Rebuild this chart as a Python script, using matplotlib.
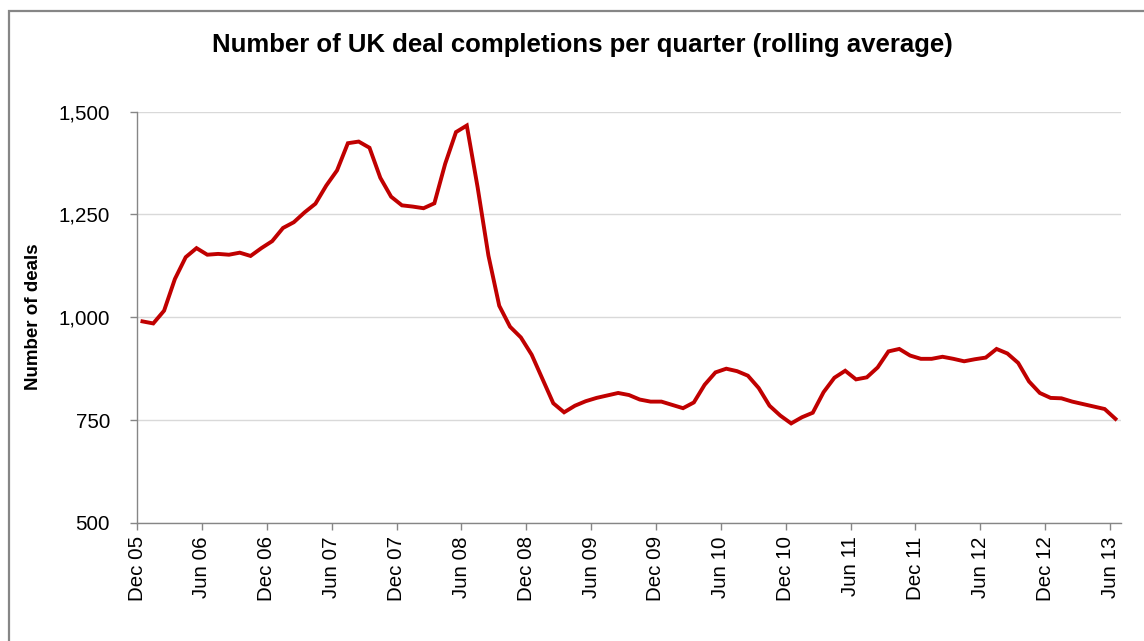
## recreate the UK deal completions chart
import matplotlib
matplotlib.use('Agg')
import matplotlib.pyplot as plt
from matplotlib.patches import Rectangle
from matplotlib.ticker import FuncFormatter

## monthly rolling average, Dec 05 to Jun 13 (91 months)
deals = [990, 985, 1016, 1093, 1146, 1168, 1152, 1154, 1152, 1157,
         1149, 1168, 1185, 1217, 1231, 1255, 1276, 1320, 1357, 1423,
         1427, 1412, 1339, 1293, 1272, 1269, 1265, 1277, 1373, 1450,
         1466, 1316, 1150, 1028, 977, 951, 909, 850, 791, 769,
         785, 796, 804, 810, 816, 811, 800, 795, 795, 787,
         779, 793, 836, 866, 875, 869, 858, 828, 785, 761,
         742, 757, 768, 818, 853, 870, 849, 854, 878, 917,
         923, 907, 899, 899, 904, 899, 893, 898, 902, 923,
         912, 889, 844, 816, 804, 803, 795, 789, 783, 777,
         753]
tick_labels = ['Dec 05', 'Jun 06', 'Dec 06', 'Jun 07', 'Dec 07', 'Jun 08',
               'Dec 08', 'Jun 09', 'Dec 09', 'Jun 10', 'Dec 10', 'Jun 11',
               'Dec 11', 'Jun 12', 'Dec 12', 'Jun 13']
y_ticks = [500, 750, 1000, 1250, 1500]

plt.rcParams['font.family'] = ['Liberation Sans', 'DejaVu Sans']

fig = plt.figure(figsize=(11.44, 6.41), dpi=100)
ax = fig.add_axes([0.1198, 0.1841, 0.86, 0.6419])

months = list(range(len(deals)))
ax.plot(months, deals, color='#C00000', linewidth=2.8, solid_joinstyle='miter', zorder=3)

## axes, ticks and grid
ax.set_xlim(-0.5, len(deals) - 0.5)
ax.set_ylim(500, 1500)
ax.set_yticks(y_ticks)
ax.yaxis.set_major_formatter(FuncFormatter(lambda v, p: '{:,.0f}'.format(v)))
ax.set_xticks([-0.5 + 6 * i for i in range(len(tick_labels))])
ax.set_xticklabels(tick_labels, rotation=90)
ax.grid(True, axis='y', color='#d9d9d9', linewidth=1)
ax.set_axisbelow(True)
for side in ['top', 'right']:
    ax.spines[side].set_visible(False)
for side in ['left', 'bottom']:
    ax.spines[side].set_color('#868686')
    ax.spines[side].set_linewidth(1.0)
ax.tick_params(axis='y', length=5, width=1, color='#868686', pad=14.4, labelsize=14.8)
ax.tick_params(axis='x', length=5, width=1, color='#868686', pad=4.5, labelsize=14.8)

## title, axis label and chart border
fig.text(0.509, 1 - 51.7 / 641, 'Number of UK deal completions per quarter (rolling average)',
         ha='center', va='baseline', fontsize=18.5, fontweight='bold')
fig.text(34 / 1144, 0.506, 'Number of deals', rotation=90, ha='center', va='center',
         fontsize=13.5, fontweight='bold')
fig.patches.append(Rectangle((9 / 1144, -0.1), 1.2, 1.1 - 11 / 641, fill=False,
                             edgecolor='#868686', linewidth=1.6, transform=fig.transFigure))

fig.savefig('out.png', dpi=100)
